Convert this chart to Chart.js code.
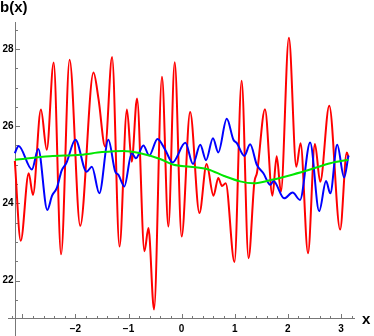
<!DOCTYPE html>
<html>
<head>
<meta charset="utf-8">
<script src="https://cdn.jsdelivr.net/npm/chart.js@4/dist/chart.umd.min.js"></script>
<style>
html,body{margin:0;padding:0;background:#fff;}
canvas{display:block;}
</style>
</head>
<body>
<canvas id="c" width="374" height="336"></canvas>
<script>
// ---- data ----
const redX = [-3.1416,-3.03,-2.88,-2.80,-2.65,-2.54,-2.41,-2.27,-2.11,-1.91,-1.66,-1.565,-1.44,-1.31,-1.17,-1.03,-0.94,-0.84,-0.70,-0.625,-0.52,-0.37,-0.25,-0.13,0.0,0.16,0.335,0.47,0.60,0.69,0.76,0.83,0.995,1.13,1.26,1.37,1.42,1.57,1.71,1.79,1.87,2.02,2.16,2.24,2.38,2.51,2.61,2.78,2.985,3.11,3.1416];
const redY = [25.1,23.03,24.78,24.22,26.43,25.39,27.65,22.68,27.72,23.42,27.39,26.7,25.47,27.79,22.88,26.43,25.08,26.72,22.76,23.36,21.25,27.28,23.40,27.66,23.14,26.37,23.75,25.02,24.2,24.66,24.45,24.52,22.48,27.18,22.58,24.55,24.8,26.44,24.2,25.22,24.3,28.29,24.95,25.56,22.71,25.54,24.56,26.53,23.32,25.32,25.2];

const blueX = [-3.1416,-3.07,-2.82,-2.70,-2.53,-2.44,-2.35,-2.26,-2.17,-2.0,-1.79,-1.69,-1.55,-1.38,-1.25,-1.19,-1.08,-0.94,-0.86,-0.72,-0.61,-0.455,-0.31,-0.17,0.07,0.215,0.35,0.46,0.59,0.69,0.85,0.975,1.04,1.18,1.29,1.416,1.54,1.67,1.73,1.93,2.09,2.23,2.42,2.59,2.72,2.80,2.93,3.06,3.1416];
const blueY = [25.3,25.49,24.88,25.41,23.83,24.2,24.4,24.85,25.05,25.65,24.82,24.95,24.26,25.65,24.82,24.74,24.44,25.3,25.17,25.5,25.24,25.67,25.39,25.06,25.57,25.02,25.52,25.12,25.69,25.32,26.19,25.65,25.56,25.23,25.53,25.0,24.78,24.48,24.58,24.13,24.28,24.09,25.58,23.80,24.58,24.26,25.52,24.67,25.24];

const greenX = [-3.1416,-2.48,-1.9,-1.5,-1.1,-0.78,-0.405,-0.15,0.16,0.5,0.8,1.1,1.35,1.7,2.1,2.45,2.8,3.1416];
const greenY = [25.13,25.22,25.26,25.33,25.36,25.30,25.15,25.0,24.95,24.88,24.71,24.57,24.52,24.61,24.75,24.89,25.04,25.13];

const xTicks = [-2,-1,0,1,2,3];
const yTicks = [22,24,26,28];
const xLabel = 'x';
const yLabel = 'b(x)';

const pts = (xs, ys) => xs.map((v, i) => ({x: v, y: ys[i]}));

const axesPlugin = {
  id: 'mmaAxes',
  beforeDatasetsDraw(chart) {
    const {ctx, scales: {x, y}} = chart;
    const ox = Math.round(x.getPixelForValue(-Math.PI)) + 0.5;
    const oy = Math.round(y.bottom) + 0.5;
    ctx.save();
    ctx.strokeStyle = '#777';
    ctx.lineWidth = 1;
    ctx.beginPath();
    ctx.moveTo(x.left, oy); ctx.lineTo(x.right, oy);
    ctx.moveTo(ox, y.top); ctx.lineTo(ox, chart.height);
    // x ticks: minor every 0.2
    for (let k = -16; k <= 16; k++) {
      const v = k / 5;
      const px = Math.round(x.getPixelForValue(v)) + 0.5;
      if (px < x.left || px > x.right) continue;
      const major = (k % 5 === 0);
      ctx.moveTo(px, oy); ctx.lineTo(px, oy - (major ? 4.5 : 2.5));
    }
    // y ticks: minor every 0.5
    for (let k = 42; k <= 57; k++) {
      const v = k / 2;
      const py = Math.round(y.getPixelForValue(v)) + 0.5;
      if (py < y.top || py > y.bottom) continue;
      const major = (k % 4 === 0);
      ctx.moveTo(ox, py); ctx.lineTo(ox + (major ? 4.5 : 2.5), py);
    }
    ctx.stroke();

    ctx.fillStyle = '#000';
    ctx.font = 'bold 10px "Liberation Sans", Arial, sans-serif';
    ctx.textAlign = 'center';
    ctx.textBaseline = 'middle';
    xTicks.forEach(v => {
      const t = v < 0 ? '\u2212' + Math.abs(v) : String(v);
      ctx.fillText(t, x.getPixelForValue(v), oy + 11);
    });
    ctx.textAlign = 'right';
    yTicks.forEach(v => {
      ctx.fillText(String(v), ox - 2, y.getPixelForValue(v));
    });
    ctx.font = 'bold 15px "Liberation Sans", Arial, sans-serif';
    ctx.textAlign = 'left';
    ctx.textBaseline = 'alphabetic';
    ctx.fillText(yLabel, 0, 12);
    ctx.textBaseline = 'middle';
    ctx.fillText(xLabel, 362, oy + 1);
    ctx.restore();
  }
};

const lineDs = (data, color, order) => ({
  data, borderColor: color, borderWidth: 2, pointRadius: 0,
  fill: false, cubicInterpolationMode: 'monotone', order, clip: false
});

new Chart(document.getElementById('c'), {
  type: 'line',
  data: {
    datasets: [
      lineDs(pts(greenX, greenY), '#00e600', 0),
      lineDs(pts(blueX, blueY), '#0000ff', 1),
      lineDs(pts(redX, redY), '#ff0000', 2)
    ]
  },
  options: {
    responsive: false,
    animation: false,
    devicePixelRatio: 1,
    layout: {padding: {left: 8, right: 19, top: 22, bottom: 18}},
    plugins: {legend: {display: false}, tooltip: {enabled: false}},
    scales: {
      x: {type: 'linear', min: -3.27, max: 3.265, display: false},
      y: {type: 'linear', min: 21.03, max: 28.7, display: false}
    }
  },
  plugins: [axesPlugin]
});
</script>
</body>
</html>
